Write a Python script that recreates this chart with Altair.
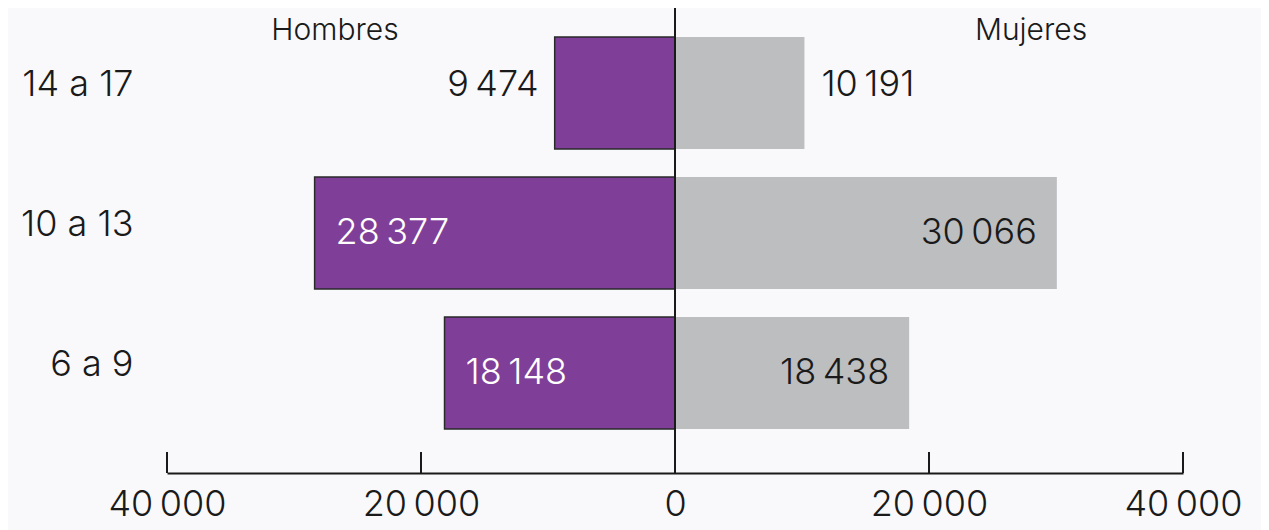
import altair as alt
import pandas as pd

# ---- data ----
grupos = ["14 a 17", "10 a 13", "6 a 9"]
hombres = [9474, 28377, 18148]
mujeres = [10191, 30066, 18438]
tick_vals = [-40000, -20000, 20000, 40000]
axis_vals = [-40000, -20000, 0, 20000, 40000]

SEP = "\u2009"


def fmt(v):
    return f"{v:,}".replace(",", SEP)


rows = []
for g, h, m in zip(grupos, hombres, mujeres):
    rows.append({"grupo": g, "sexo": "Hombres", "valor": h, "signed": -h,
                 "label": fmt(h), "dentro": h > 15000})
    rows.append({"grupo": g, "sexo": "Mujeres", "valor": m, "signed": m,
                 "label": fmt(m), "dentro": m > 15000})
df = pd.DataFrame(rows)

PURPLE = "#7f3f98"
GRAY = "#bdbec0"
INK = "#1a1a1a"
FONT = "Inter"
BG = "#f9f9fb"

W, H = 1016, 420

xscale = alt.Scale(domain=[-40000, 40000], nice=False, zero=True)
yscale = alt.Scale(domain=grupos, paddingInner=0.2, paddingOuter=0.1)

xaxis = alt.Axis(
    values=axis_vals,
    labelExpr="replace(format(abs(datum.value), ','), ',', '\u2009')",
    offset=30, ticks=False, tickSize=0, grid=False, domain=True,
    domainColor=INK, domainWidth=2, labelFontSize=36, labelColor=INK,
    labelFont=FONT, labelFontWeight=300, labelPadding=14, labelFlush=False,
    title=None,
)
yaxis = alt.Axis(
    title=None, domain=False, ticks=False, tickSize=0, labelFontSize=36,
    labelFont=FONT, labelFontWeight=300, labelColor=INK, labelPadding=34,
    labelOffset=-8, labelAlign="right", labelBaseline="middle",
)

base = alt.Chart(df)

bars_h = base.transform_filter(alt.datum.sexo == "Hombres").mark_bar(
    color=PURPLE, stroke="#2a2a2a", strokeWidth=1.5
).encode(
    x=alt.X("signed:Q", scale=xscale, axis=xaxis),
    y=alt.Y("grupo:N", scale=yscale, axis=yaxis, sort=grupos),
)
bars_m = base.transform_filter(alt.datum.sexo == "Mujeres").mark_bar(
    color=GRAY
).encode(
    x=alt.X("signed:Q", scale=xscale),
    y=alt.Y("grupo:N", scale=yscale, sort=grupos),
)

lab_kw = dict(fontSize=36, font=FONT, fontWeight=300, baseline="middle")

lab_h_out = base.transform_filter(
    (alt.datum.sexo == "Hombres") & (~alt.datum.dentro)
).mark_text(align="right", dx=-16, dy=-8, color=INK, **lab_kw).encode(
    x=alt.X("signed:Q", scale=xscale), y=alt.Y("grupo:N", scale=yscale, sort=grupos),
    text="label:N")
lab_h_in = base.transform_filter(
    (alt.datum.sexo == "Hombres") & alt.datum.dentro
).mark_text(align="left", dx=21, color="white", **lab_kw).encode(
    x=alt.X("signed:Q", scale=xscale), y=alt.Y("grupo:N", scale=yscale, sort=grupos),
    text="label:N")
lab_m_out = base.transform_filter(
    (alt.datum.sexo == "Mujeres") & (~alt.datum.dentro)
).mark_text(align="left", dx=17, dy=-8, color=INK, **lab_kw).encode(
    x=alt.X("signed:Q", scale=xscale), y=alt.Y("grupo:N", scale=yscale, sort=grupos),
    text="label:N")
lab_m_in = base.transform_filter(
    (alt.datum.sexo == "Mujeres") & alt.datum.dentro
).mark_text(align="right", dx=-20, color=INK, **lab_kw).encode(
    x=alt.X("signed:Q", scale=xscale), y=alt.Y("grupo:N", scale=yscale, sort=grupos),
    text="label:N")

center = alt.Chart(pd.DataFrame({"v": [0]})).mark_rule(
    color=INK, strokeWidth=2
).encode(x=alt.X("v:Q", scale=xscale), y=alt.value(-15), y2=alt.value(450))

ticks = alt.Chart(pd.DataFrame({"t": tick_vals})).mark_rule(
    color=INK, strokeWidth=2
).encode(x=alt.X("t:Q", scale=xscale), y=alt.value(429), y2=alt.value(450))

hdr_kw = dict(fontSize=30, font=FONT, fontWeight=300, color=INK,
              baseline="alphabetic", align="center")
hdr_h = alt.Chart(pd.DataFrame({"h": ["Hombres"]})).mark_text(**hdr_kw).encode(
    text="h:N", x=alt.value(168), y=alt.value(17))
hdr_m = alt.Chart(pd.DataFrame({"h": ["Mujeres"]})).mark_text(**hdr_kw).encode(
    text="h:N", x=alt.value(864), y=alt.value(17))

chart = alt.layer(
    bars_h, bars_m, center, ticks, lab_h_out, lab_h_in, lab_m_out, lab_m_in,
    hdr_h, hdr_m
).properties(
    width=W, height=H,
    autosize=alt.AutoSizeParams(type="none"),
    padding={"left": 159, "top": 15, "right": 78, "bottom": 87},
    background=BG,
).configure_view(stroke=None)

chart.save("out.html", embed_options={"renderer": "svg", "actions": False})
